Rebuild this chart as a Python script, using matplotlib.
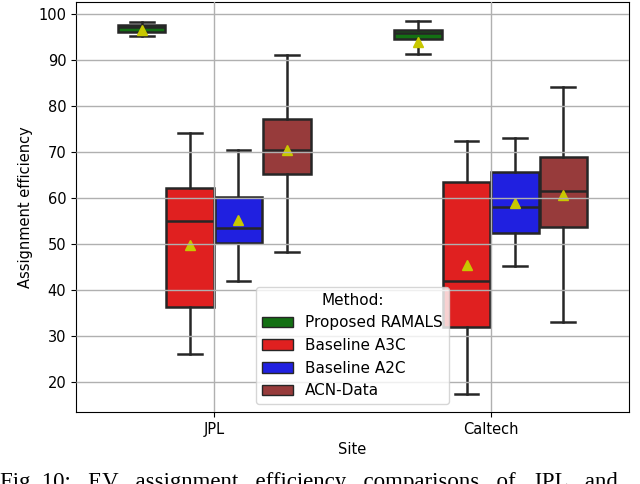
import numpy as np
import matplotlib
matplotlib.use('Agg')
import matplotlib.pyplot as plt
from matplotlib.patches import Patch

sites = ['JPL', 'Caltech']
methods = ['Proposed RAMALS', 'Baseline A3C', 'Baseline A2C', 'ACN-Data']
colors = ['#137013', '#e02020', '#2020e0', '#973b3b']

# per method: [JPL, Caltech]
whislo = {'Proposed RAMALS': [95.2, 91.2], 'Baseline A3C': [26.1, 17.5],
          'Baseline A2C': [41.9, 45.1], 'ACN-Data': [48.3, 33.0]}
q1 = {'Proposed RAMALS': [96.0, 94.4], 'Baseline A3C': [36.3, 31.9],
      'Baseline A2C': [50.1, 52.3], 'ACN-Data': [65.2, 53.6]}
med = {'Proposed RAMALS': [97.0, 95.7], 'Baseline A3C': [54.9, 41.9],
       'Baseline A2C': [53.5, 57.9], 'ACN-Data': [70.4, 61.5]}
q3 = {'Proposed RAMALS': [97.6, 96.5], 'Baseline A3C': [62.2, 63.4],
      'Baseline A2C': [60.2, 65.5], 'ACN-Data': [77.2, 68.8]}
whishi = {'Proposed RAMALS': [98.1, 98.4], 'Baseline A3C': [74.0, 72.3],
          'Baseline A2C': [70.4, 73.0], 'ACN-Data': [91.0, 84.1]}
means = {'Proposed RAMALS': [96.5, 93.9], 'Baseline A3C': [49.8, 45.4],
         'Baseline A2C': [55.2, 58.8], 'ACN-Data': [70.4, 60.6]}

fig = plt.figure(figsize=(6.4, 4.84), dpi=100)
ax = fig.add_axes([76 / 640, 1 - 412 / 484, 553 / 640, 410 / 484])

total_w = 0.7
w = total_w / len(methods)
for k, m in enumerate(methods):
    offset = -total_w / 2 + w * (k + 0.5)
    stats = []
    for i in range(len(sites)):
        stats.append(dict(whislo=whislo[m][i], q1=q1[m][i], med=med[m][i],
                          q3=q3[m][i], whishi=whishi[m][i], mean=means[m][i],
                          fliers=[]))
    pos = [i + offset for i in range(len(sites))]
    ax.bxp(stats, positions=pos, widths=w * 0.98, patch_artist=True,
           showmeans=True, manage_ticks=False,
           boxprops=dict(facecolor=colors[k], edgecolor='#262626', linewidth=1.8),
           medianprops=dict(color='#262626', linewidth=1.8),
           whiskerprops=dict(color='#262626', linewidth=1.8),
           capprops=dict(color='#262626', linewidth=1.8),
           meanprops=dict(marker='^', markerfacecolor='#c8c800',
                          markeredgecolor='#c8c800', markersize=7))

ax.set_xlim(-0.5, 1.5)
ax.set_ylim(13.5, 102.5)
ax.set_xticks(range(len(sites)))
ax.set_xticklabels(sites)
ax.set_yticks(range(20, 101, 10))
ax.tick_params(labelsize=10.5)
ax.set_axisbelow(False)
ax.grid(True, color='#b0b0b0', linewidth=1)
ax.set_xlabel('Site', fontsize=10.5)
ax.set_ylabel('Assignment efficiency', fontsize=10.5)

handles = [Patch(facecolor=c, edgecolor='#262626', linewidth=1) for c in colors]
leg = ax.legend(handles, methods, title='Method:', loc='lower center',
                fontsize=11, title_fontsize=11, framealpha=0.8)

# figure caption, cut off by the bottom edge as in the source
fig.text(0.0, 1 - 472 / 484,
         'Fig. 10:   EV   assignment   efficiency   comparisons   of   JPL   and',
         family='Liberation Serif', fontsize=16.5, va='top', ha='left')

fig.savefig('out.png', dpi=100)
